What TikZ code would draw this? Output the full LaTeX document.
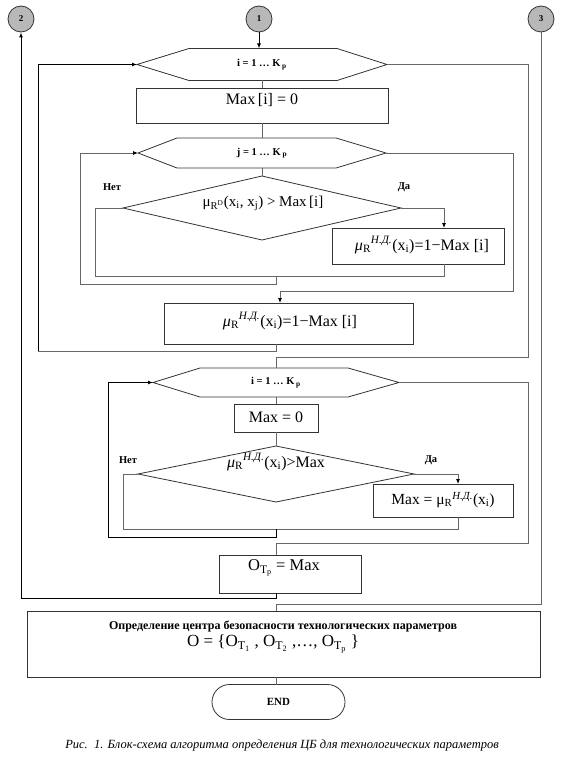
\documentclass[tikz,border=0pt]{standalone}
\usepackage{fontspec}
\setmainfont{Liberation Serif}
\usetikzlibrary{arrows.meta,calc}
\newcommand\hexshape[3]{%
  \draw[box] (#1.west) -- ([xshift=#2pt]#1.north west) -- ([xshift=-#3pt]#1.north east) -- (#1.east) -- ([xshift=-#3pt]#1.south east) -- ([xshift=#2pt]#1.south west) -- cycle;}
\newcommand\diashape[1]{%
  \draw[box] (#1.north) -- (#1.east) -- (#1.south) -- (#1.west) -- cycle;}
\newcommand\muRND{\textit{μ}\textsubscript{R}\textsuperscript{\textit{Н.Д.}}}
\begin{document}
\begin{tikzpicture}[x=1pt,y=-1pt,
  ln/.style={draw=black!60, line width=0.8pt},
  dk/.style={draw=black, line width=1pt},
  arr/.style={-{Latex[length=5pt,width=4pt,color=black]}},
  box/.style={draw=black!80, line width=0.8pt, rectangle, inner sep=0pt, outer sep=0pt},
  shp/.style={draw=none, rectangle, inner sep=0pt, outer sep=0pt},
  conn/.style={circle, draw=black!80, fill=black!28, line width=0.8pt, minimum size=26pt, inner sep=0pt, font=\bfseries\fontsize{9}{9}\selectfont},
  hext/.style={font=\bfseries\fontsize{10.5}{11}\selectfont},
  frm/.style={font=\fontsize{16}{18}\selectfont, inner sep=0pt},
  lbl/.style={font=\bfseries\fontsize{10.5}{11}\selectfont, inner sep=0pt},
  ]
\useasboundingbox (0,0) rectangle (563,757);
\fill[white] (0,0) rectangle (563,757);

% connectors (circles)
\node[conn] (c2) at (21,19) {2};
\node[conn] (c1) at (259,19) {1};
\node[conn] (c3) at (541,19) {3};

% first loop
\node[shp, minimum width=250pt, minimum height=32pt, hext] (h1) at (262,64.5) {i = 1 … K\,\textsubscript{p}};
\hexshape{h1}{52}{50}
\node[box, minimum width=252pt, minimum height=35pt] (b1) at (262,105.5) {};
\node[font=\fontsize{16}{18}\selectfont, inner sep=0pt] (b1t) at (262,100) {Max\,[i] = 0};
\node[shp, minimum width=248pt, minimum height=30pt, hext] (h2) at (262,153) {j = 1 … K\,\textsubscript{p}};
\hexshape{h2}{39}{50}
\node[shp, minimum width=278pt, minimum height=64pt] (d1) at (262,208) {};
\diashape{d1}
\node[frm, font=\fontsize{15}{17}\selectfont] (d1t) at (263,203) {μ\textsubscript{R\textsuperscript{D}}(x\textsubscript{i}, x\textsubscript{j}) > Max\,[i]};
\node[lbl] (no1) at (112,187) {Нет};
\node[lbl] (yes1) at (404,187) {Да};
\node[box, minimum width=172pt, minimum height=36pt] (rb1) at (418,246) {};
\node[frm] (rb1t) at (422,245) {\muRND(x\textsubscript{i})=1−Max [i]};
\node[box, minimum width=249pt, minimum height=41pt] (b3) at (288.5,323.5) {};
\node[frm] (b3t) at (290,321) {\muRND(x\textsubscript{i})=1−Max [i]};

\coordinate (ya) at (444,208);
\coordinate (na) at (95,276);
\coordinate (ma) at (276,276);
\coordinate (la) at (80,284);
\coordinate (ea) at (513,291);
\coordinate (eb) at (280,291);
\coordinate (mb) at (276,351);
\coordinate (lb) at (38,351);
\coordinate (ec) at (528,357);
\coordinate (ed) at (276,357);

\draw[dk,arr] (c1.south) -- (c1.south |- h1.north);
\draw[ln] (h1.south) -- (b1.north);
\draw[ln] (b1.south) -- (h2.north);
\draw[ln] (h2.south) -- (d1.north);
\draw[ln,arr] (d1.east) -- (ya) -- (ya |- rb1.north);
\draw[ln] (d1.west) -| (na) -- (na -| ya) -- (ya |- rb1.south);
\draw[ln,arr] (ma) |- (la) |- (h2.west);
\draw[ln,arr] (h2.east) -| (ea) -- (eb) -- (eb |- b3.north);
\draw[ln] (b3.south -| mb) -- (mb) -- (lb);
\draw[dk,arr] (lb) |- (h1.west);

% second loop
\node[shp, minimum width=246pt, minimum height=29pt, hext] (h3) at (276,382.5) {i = 1 … K\,\textsubscript{p}};
\hexshape{h3}{47}{51}
\draw[ln] (h1.east) -| (ec) -- (ed) -- (ed |- h3.north);
\node[box, minimum width=84pt, minimum height=28pt] (b4) at (276,418) {};
\node[font=\fontsize{16}{18}\selectfont, inner sep=0pt] (b4t) at (276,417) {Max = 0};
\node[shp, minimum width=276pt, minimum height=56pt] (d2) at (276,474) {};
\diashape{d2}
\node[frm] (d2t) at (276,462) {\muRND(x\textsubscript{i})>Max};
\node[lbl] (no2) at (128,460) {Нет};
\node[lbl] (yes2) at (431,460) {Да};
\node[box, minimum width=140pt, minimum height=33pt] (b5) at (443,500.5) {};
\node[frm, font=\fontsize{15.5}{17}\selectfont] (b5t) at (443,500) {Max = μ\textsubscript{R}\textsuperscript{\textit{Н.Д.}}(x\textsubscript{i})};
\node[box, minimum width=142pt, minimum height=38pt] (b6) at (290,574) {};
\node[font=\fontsize{16.5}{18}\selectfont, inner sep=0pt] (b6t) at (284,568) {O\textsubscript{T\textsubscript{p}} = Max};

\coordinate (yb) at (458,474);
\coordinate (nb) at (123,529);
\coordinate (mc) at (276,529);
\coordinate (lc) at (108,537);
\coordinate (ee) at (528,543);
\coordinate (ef) at (276,543);
\coordinate (mg) at (276,598);
\coordinate (lg) at (21,598);
\coordinate (eh) at (541,604);
\coordinate (ei) at (276,604);

\draw[ln] (h3.south) -- (b4.north);
\draw[ln] (b4.south) -- (d2.north);
\draw[ln,arr] (d2.east) -- (yb) -- (yb |- b5.north);
\draw[ln] (d2.west) -| (nb) -- (nb -| yb) -- (yb |- b5.south);
\draw[dk,arr] (mc) |- (lc) |- (h3.west);
\draw[ln] (h3.east) -| (ee) -- (ef) -- (ef |- b6.north);
\draw[dk,arr] (b6.south -| mg) -- (mg) -- (lg) -- (c2.south);

% final
\node[box, minimum width=513pt, minimum height=66pt] (b7) at (283.5,644) {};
\node[font=\bfseries\fontsize{12}{14}\selectfont, inner sep=0pt] (b7a) at (283,626) {Определение центра безопасности технологических параметров};
\node[font=\fontsize{17}{19}\selectfont, inner sep=0pt] (b7b) at (273,644) {O = \{O\textsubscript{T\textsubscript{1}} , O\textsubscript{T\textsubscript{2}} ,…, O\textsubscript{T\textsubscript{p}} \}};
\draw[ln] (c3.south) -- (eh) -- (ei) -- (ei |- b7.north);
\node[box, rounded corners=17.5pt, minimum width=133pt, minimum height=35pt, font=\bfseries\fontsize{11}{12}\selectfont] (en) at (278.5,702) {END};
\draw[ln] (b7.south -| ei) -- (ei |- en.north);

\node[font=\itshape\fontsize{12.5}{14}\selectfont, inner sep=0pt] (cap) at (282,745) {Рис.~~1. Блок-схема алгоритма определения ЦБ для технологических параметров};
\end{tikzpicture}
\end{document}
